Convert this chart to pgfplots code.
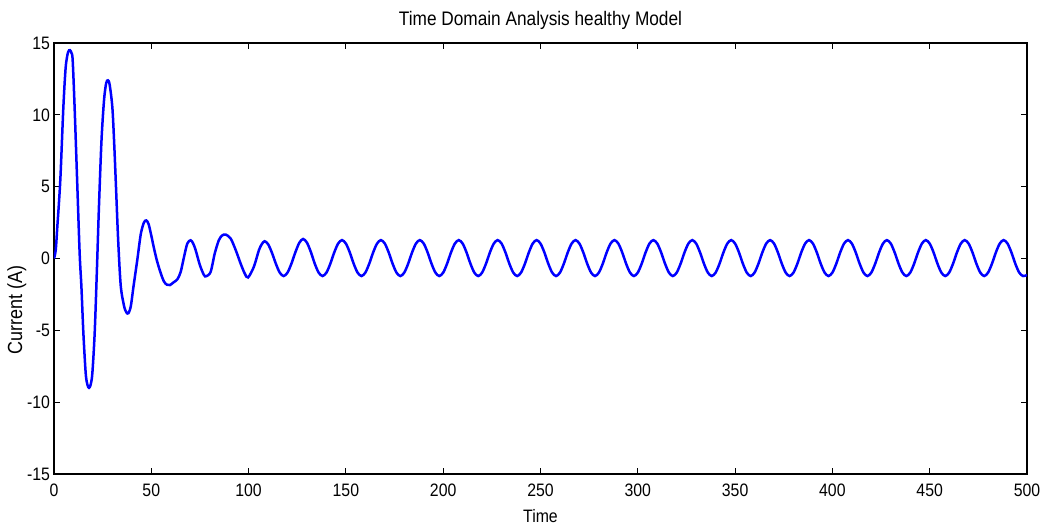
\documentclass[border=0pt]{standalone}
\usepackage{fontspec}
\setmainfont{Liberation Sans}[FakeStretch=0.88]
\usepackage{pgfplots}
\pgfplotsset{compat=1.18}
\begin{document}
\begin{tikzpicture}
\path[use as bounding box] (-27pt,-26.5pt) rectangle (495.5pt,237pt);
\begin{axis}[
  at={(0pt,0pt)}, anchor=south west,
  scale only axis, width=486.5pt, height=215.5pt,
  xmin=0, xmax=500, ymin=-15, ymax=15,
  xtick={0,50,...,500}, ytick={-15,-10,...,15},
  tick align=inside, major tick length=3pt,
  axis line style={line width=0.8pt},
  tick style={black, line width=0.5pt},
  font=\fontsize{9}{11}\selectfont,
  /pgf/number format/assume math mode=true,
  title={Time Domain Analysis healthy Model},
  title style={at={(axis description cs:0.5,1)}, anchor=base, yshift=2.7pt, font=\fontsize{9.8}{11}\selectfont},
  xlabel={Time}, ylabel={Current (A)},
  xlabel style={at={(axis description cs:0.5,0)}, anchor=north, yshift=-14pt},
  ylabel style={at={(axis description cs:-0.0211,0.38)}, anchor=south, font=\fontsize{10.2}{12}\selectfont},
  yticklabel style={xshift=1.5pt},
  xticklabel style={yshift=-1.5pt},
  clip=true,
]
\addplot[blue, line width=1.25pt, smooth] coordinates {
(0,0) (0.9,0.6) (1.7,2.2) (2.6,4.0) (3.4,5.9) (4.8,10.5) (6.0,13.3) (7.2,14.35) (8.2,14.5) (9.0,14.3) (9.6,13.8)
(10.6,10.5) (12.0,5.0) (13.2,0.3) (14.1,-2.0) (15.1,-5.2) (16.3,-8.0) (17.2,-8.8) (18.0,-9.0) (18.8,-8.8) (19.7,-8.0)
(20.9,-5.2) (22.0,-1.0) (23.1,3.6) (24.4,8.2) (25.7,11.0) (26.8,12.2) (27.7,12.4) (28.6,12.1) (30.0,10.5)
(31.0,7.8) (32.0,4.5) (33.0,1.2) (34.3,-1.9) (36.0,-3.3) (37.2,-3.75) (38.3,-3.8) (39.5,-3.3) (40.8,-2.0)
(42.8,-0.1) (44.6,1.7) (46.2,2.5) (47.4,2.65) (48.6,2.4) (50.0,1.6) (51.4,0.7) (53.0,-0.2) (54.8,-1.0)
(56.5,-1.6) (58.0,-1.82) (59.6,-1.85) (61.5,-1.65) (63.4,-1.45) (65.1,-0.93) (66.8,0.1) (68.5,1.04) (70.2,1.27)
(71.5,1.05) (72.8,0.58) (75.0,-0.47) (77.1,-1.16) (78.3,-1.23) (80.5,-0.93) (82.6,0.35) (84.7,1.27) (86.4,1.6)
(88.2,1.67) (90.8,1.39) (93.4,0.58) (95.9,-0.35) (98.0,-1.04) (99.7,-1.32) (102.7,-0.58) (105.3,0.58) (106.8,1.0)
(108.2,1.2) (110,1.0) (112,0.4) (114,-0.36) (116,-0.98) (118,-1.22) (120,-0.98) (122,-0.36) (124,0.42) (126,1.08)
(128,1.36) (130,1.1) (132,0.45) (134,-0.36) (136,-0.98) (138,-1.22) (140,-0.98) (142,-0.36) (144,0.42) (146,1.04)
(148,1.28) (150,1.04) (152,0.42) (154,-0.36) (156,-0.98) (158,-1.22) (160,-0.98) (162,-0.36) (164,0.42) (166,1.04)
(168,1.28) (170,1.04) (172,0.42) (174,-0.36) (176,-0.98) (178,-1.22) (180,-0.98) (182,-0.36) (184,0.42) (186,1.04)
(188,1.28) (190,1.04) (192,0.42) (194,-0.36) (196,-0.98) (198,-1.22) (200,-0.98) (202,-0.36) (204,0.42) (206,1.04)
(208,1.28) (210,1.04) (212,0.42) (214,-0.36) (216,-0.98) (218,-1.22) (220,-0.98) (222,-0.36) (224,0.42) (226,1.04)
(228,1.28) (230,1.04) (232,0.42) (234,-0.36) (236,-0.98) (238,-1.22) (240,-0.98) (242,-0.36) (244,0.42) (246,1.04)
(248,1.28) (250,1.04) (252,0.42) (254,-0.36) (256,-0.98) (258,-1.22) (260,-0.98) (262,-0.36) (264,0.42) (266,1.04)
(268,1.28) (270,1.04) (272,0.42) (274,-0.36) (276,-0.98) (278,-1.22) (280,-0.98) (282,-0.36) (284,0.42) (286,1.04)
(288,1.28) (290,1.04) (292,0.42) (294,-0.36) (296,-0.98) (298,-1.22) (300,-0.98) (302,-0.36) (304,0.42) (306,1.04)
(308,1.28) (310,1.04) (312,0.42) (314,-0.36) (316,-0.98) (318,-1.22) (320,-0.98) (322,-0.36) (324,0.42) (326,1.04)
(328,1.28) (330,1.04) (332,0.42) (334,-0.36) (336,-0.98) (338,-1.22) (340,-0.98) (342,-0.36) (344,0.42) (346,1.04)
(348,1.28) (350,1.04) (352,0.42) (354,-0.36) (356,-0.98) (358,-1.22) (360,-0.98) (362,-0.36) (364,0.42) (366,1.04)
(368,1.28) (370,1.04) (372,0.42) (374,-0.36) (376,-0.98) (378,-1.22) (380,-0.98) (382,-0.36) (384,0.42) (386,1.04)
(388,1.28) (390,1.04) (392,0.42) (394,-0.36) (396,-0.98) (398,-1.22) (400,-0.98) (402,-0.36) (404,0.42) (406,1.04)
(408,1.28) (410,1.04) (412,0.42) (414,-0.36) (416,-0.98) (418,-1.22) (420,-0.98) (422,-0.36) (424,0.42) (426,1.04)
(428,1.28) (430,1.04) (432,0.42) (434,-0.36) (436,-0.98) (438,-1.22) (440,-0.98) (442,-0.36) (444,0.42) (446,1.04)
(448,1.28) (450,1.04) (452,0.42) (454,-0.36) (456,-0.98) (458,-1.22) (460,-0.98) (462,-0.36) (464,0.42) (466,1.04)
(468,1.28) (470,1.04) (472,0.42) (474,-0.36) (476,-0.98) (478,-1.22) (480,-0.98) (482,-0.36) (484,0.42) (486,1.04)
(488,1.28) (490,1.04) (492,0.42) (494,-0.36) (496,-0.98) (498,-1.22) (500,-1.15)
};
\end{axis}
\end{tikzpicture}
\end{document}
